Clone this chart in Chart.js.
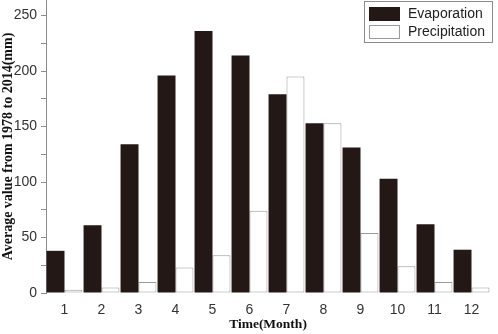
<!DOCTYPE html>
<html>
<head>
<meta charset="utf-8">
<script src="https://cdn.jsdelivr.net/npm/chart.js@4.4.0/dist/chart.umd.min.js"></script>
<style>
  html, body { margin: 0; padding: 0; background: #fff; }
  #wrap { width: 498px; height: 334px; position: relative; }
</style>
</head>
<body>
<div id="wrap"><canvas id="barChart"></canvas></div>
<script>
var months = ['1', '2', '3', '4', '5', '6', '7', '8', '9', '10', '11', '12'];
var evaporation = [38, 61, 134, 196, 236, 214, 179, 153, 131, 103, 62, 39];
var precipitation = [3, 5, 10, 23, 34, 74, 195, 153, 54, 24, 10, 5];
var yTicks = [0, 25, 50, 75, 100, 125, 150, 175, 200, 225, 250];

// legend box drawn top right, like the original figure
var boxLegend = {
    id: 'boxLegend',
    afterDraw: function(chart) {
        var c = chart.ctx;
        c.save();
        c.strokeStyle = '#8c8c8c';
        c.lineWidth = 1;
        c.strokeRect(364.5, 1.5, 128, 41);
        c.font = '14px "Liberation Sans", Arial, sans-serif';
        c.textBaseline = 'middle';
        chart.data.datasets.forEach(function(ds, i) {
            var y = 7 + i * 18;
            c.fillStyle = ds.backgroundColor;
            c.fillRect(369, y, 31, 14);
            if (ds.borderWidth) {
                c.strokeStyle = ds.borderColor;
                c.strokeRect(369.5, y + 0.5, 30, 13);
            }
            c.fillStyle = '#222';
            c.fillText(ds.label, 408, y + 7.5);
        });
        c.restore();
    }
};

var ctx = document.getElementById('barChart').getContext('2d');
var myChart = new Chart(ctx, {
    type: 'bar',
    data: {
        labels: months,
        datasets: [{
            label: 'Evaporation',
            data: evaporation,
            backgroundColor: '#231815',
            borderWidth: 0,
            categoryPercentage: 0.97,
            barPercentage: 1
        },
        {
            label: 'Precipitation',
            data: precipitation,
            backgroundColor: '#ffffff',
            borderColor: '#9a9a9a',
            borderWidth: 1,
            borderSkipped: false,
            categoryPercentage: 0.97,
            barPercentage: 1
        }]
    },
    options: {
        responsive: true,
        maintainAspectRatio: false,
        animation: false,
        layout: { padding: { top: 0, right: 8, left: 0, bottom: 0 } },
        plugins: {
            legend: { display: false },
            tooltip: { enabled: false }
        },
        scales: {
            x: {
                grid: { display: false, drawTicks: false },
                border: { display: false },
                ticks: {
                    color: '#333',
                    padding: 9,
                    maxRotation: 0,
                    font: { family: '"Liberation Sans", Arial, sans-serif', size: 14 }
                },
                title: {
                    display: true,
                    text: 'Time(Month)',
                    color: '#111',
                    padding: { top: 0, bottom: 1 },
                    font: { family: '"Liberation Serif", "Times New Roman", serif', size: 13.5, weight: 'bold' }
                },
                afterFit: function(scale) { scale.height = 41; }
            },
            y: {
                min: 0,
                max: 264,
                afterBuildTicks: function(scale) {
                    scale.ticks = yTicks.map(function(v) { return { value: v }; });
                },
                grid: { drawOnChartArea: false, tickLength: 5, color: '#8c8c8c' },
                border: { display: true, color: '#8c8c8c' },
                ticks: {
                    color: '#333',
                    padding: 4,
                    font: { family: '"Liberation Sans", Arial, sans-serif', size: 14 },
                    callback: function(v) { return v % 50 === 0 ? v : ''; }
                },
                title: {
                    display: true,
                    text: 'Average value from 1978 to 2014(mm)',
                    color: '#111',
                    padding: { top: 1, bottom: 0 },
                    font: { family: '"Liberation Serif", "Times New Roman", serif', size: 14, weight: 'bold', lineHeight: 1 }
                },
                afterFit: function(scale) {
                    scale.width = 46;
                    scale.paddingTop = 0;
                }
            }
        }
    },
    plugins: [boxLegend]
});
</script>
</body>
</html>
